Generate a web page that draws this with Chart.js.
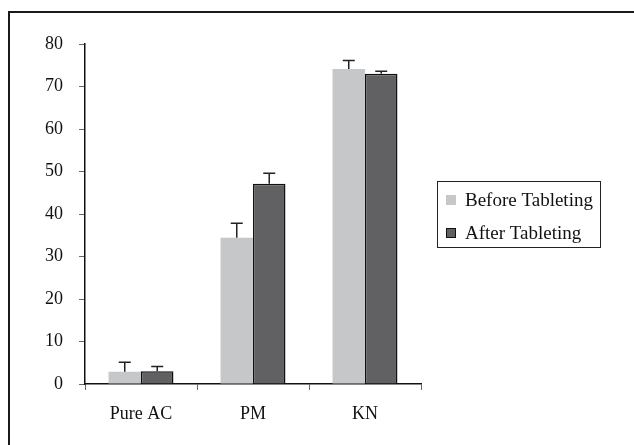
<!DOCTYPE html>
<html>
<head>
<meta charset="utf-8">
<script src="https://cdn.jsdelivr.net/npm/chart.js@4"></script>
<style>
  html, body { margin: 0; padding: 0; background: #fff; }
  #wrap { width: 634px; height: 445px; }
</style>
</head>
<body>
<div id="wrap"><canvas id="myChart"></canvas></div>
<script>
// data
const categories = ['Pure AC', 'PM', 'KN'];
const beforeValues = [2.9, 34.4, 74.1];
const beforeErrors = [2.2, 3.4, 2.0];
const afterValues = [3.0, 47.1, 73.0];
const afterErrors = [1.1, 2.5, 0.6];
const yTicks = [0, 10, 20, 30, 40, 50, 60, 70, 80];

const FONT = 'Liberation Serif, Times New Roman, serif';

// upward error bars drawn through the y scale
const errorBars = {
  id: 'errorBars',
  afterDatasetsDraw(chart) {
    const ctx = chart.ctx;
    const y = chart.scales.y;
    ctx.save();
    ctx.strokeStyle = '#222';
    ctx.lineWidth = 1.5;
    chart.data.datasets.forEach((ds, i) => {
      const meta = chart.getDatasetMeta(i);
      meta.data.forEach((bar, j) => {
        const top = y.getPixelForValue(ds.data[j] + ds.errors[j]);
        ctx.beginPath();
        ctx.moveTo(bar.x, bar.y);
        ctx.lineTo(bar.x, top);
        ctx.moveTo(bar.x - 6, top);
        ctx.lineTo(bar.x + 6, top);
        ctx.stroke();
      });
    });
    ctx.restore();
  }
};

// frame and boxed legend
const frameLegend = {
  id: 'frameLegend',
  afterDraw(chart) {
    const ctx = chart.ctx;
    ctx.save();
    ctx.strokeStyle = '#1a1a1a';
    ctx.lineWidth = 2;
    ctx.beginPath();
    ctx.moveTo(9, 445);
    ctx.lineTo(9, 12);
    ctx.lineTo(634, 12);
    ctx.stroke();

    ctx.lineWidth = 1;
    ctx.strokeStyle = '#222';
    ctx.strokeRect(437.5, 181.5, 163, 66);
    ctx.font = '19px ' + FONT;
    ctx.textBaseline = 'middle';
    ctx.textAlign = 'left';
    chart.data.datasets.forEach((ds, i) => {
      const cy = 200 + i * 33;
      ctx.fillStyle = ds.backgroundColor;
      ctx.fillRect(446, cy - 5, 10, 10);
      if (ds.borderWidth) {
        ctx.strokeStyle = '#111';
        ctx.strokeRect(446.5, cy - 4.5, 9, 9);
      }
      ctx.fillStyle = '#111';
      ctx.fillText(ds.label, 465, cy + 1);
    });
    ctx.restore();
  }
};

new Chart(document.getElementById('myChart'), {
  type: 'bar',
  data: {
    labels: categories,
    datasets: [{
      label: 'Before Tableting',
      data: beforeValues,
      errors: beforeErrors,
      backgroundColor: '#c6c7c9',
      borderWidth: 0
    }, {
      label: 'After Tableting',
      data: afterValues,
      errors: afterErrors,
      backgroundColor: '#616163',
      borderColor: '#111',
      borderWidth: 1.5
    }]
  },
  options: {
    responsive: true,
    maintainAspectRatio: false,
    animation: false,
    layout: { padding: { left: 0, right: 213, top: 44, bottom: 0 } },
    datasets: { bar: { categoryPercentage: 0.58, barPercentage: 1 } },
    plugins: {
      legend: { display: false },
      tooltip: { enabled: false }
    },
    scales: {
      x: {
        afterFit: (s) => { s.height = 61; },
        grid: {
          offset: true,
          drawOnChartArea: false,
          drawTicks: true,
          tickLength: 6,
          color: '#666'
        },
        border: { color: '#111', width: 1.5 },
        ticks: { color: '#111', padding: 13, font: { family: FONT, size: 18 } }
      },
      y: {
        min: 0,
        max: 80,
        afterFit: (s) => { s.width = 85; },
        afterBuildTicks: (s) => { s.ticks = yTicks.map(v => ({ value: v })); },
        grid: {
          drawOnChartArea: false,
          drawTicks: true,
          tickLength: 6,
          color: '#666'
        },
        border: { color: '#111', width: 1.5 },
        ticks: { color: '#111', padding: 16, font: { family: FONT, size: 18 } }
      }
    }
  },
  plugins: [errorBars, frameLegend]
});
</script>
</body>
</html>
